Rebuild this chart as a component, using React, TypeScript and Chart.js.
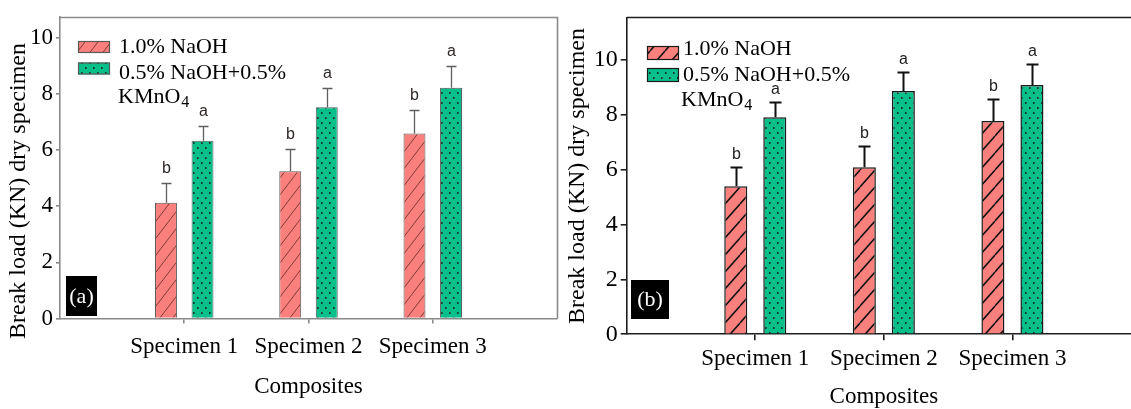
import React, { useEffect, useRef } from 'react';
import { Chart, registerables } from 'chart.js';

Chart.register(...registerables);

const SERIF = "'Liberation Serif', 'Times New Roman', serif";
const SANS = "'Liberation Sans Narrow', 'Liberation Sans', Arial, sans-serif";

const categories = ['Specimen 1', 'Specimen 2', 'Specimen 3'];
const xLabels = ['', ...categories, ''];
const seriesLabels = ['1.0% NaOH', '0.5% NaOH+0.5%'];
const legendThirdLine = 'KMnO';
const legendSubscript = '4';
const xTitle = 'Composites';
const yTitle = 'Break load (KN) dry specimen';
const yStep = 2;

// Panel (a)
const naohA = [4.12, 5.24, 6.59];
const naohErrA = [0.71, 0.79, 0.82];
const mixA = [6.33, 7.52, 8.21];
const mixErrA = [0.52, 0.69, 0.77];
const naohLettersA = ['b', 'b', 'b'];
const mixLettersA = ['a', 'a', 'a'];

// Panel (b)
const naohB = [5.4, 6.09, 7.77];
const naohErrB = [0.69, 0.79, 0.82];
const mixB = [7.91, 8.87, 9.09];
const mixErrB = [0.54, 0.68, 0.75];
const naohLettersB = ['b', 'b', 'b'];
const mixLettersB = ['a', 'a', 'a'];

const RED = '#F9807C';
const GREEN = '#06BF8B';
const H = 409;

type Style = {
  axisColor: string; axisWidth: number; frameRight: boolean;
  xTickLen: number; xLabelPad: number; xLabelSize: number; xTitleSize: number; xTitlePad: number;
  yTickLen: number; yLabelPad: number; yLabelSize: number;
  barBorder: string; barBorderWidth: number;
  hatchColor: string; hatchWidth: number; hatchW: number; hatchH: number;
  dotColor: string;
  errColor: string; errWidth: number; capW: number; letterGap: number; letterSize: number; letterColor: string;
  cp: number; bp: number;
  yTitleX: number; yTitleY: number;
  legend: { bx: number; bw: number; bh: number; b1y: number; b2y: number; tx: number; t3x: number; r1: number; r2: number; r3: number };
  tagBox: { x: number; y: number; w: number; h: number };
};

type Panel = {
  tag: string; left: number; rightPad: number;
  area: { l: number; r: number; t: number; b: number };
  yMax: number;
  naoh: number[]; naohErr: number[]; mix: number[]; mixErr: number[];
  naohLetters: string[]; mixLetters: string[];
  s: Style;
};

const panels: Panel[] = [
  {
    tag: '(a)', left: 0, rightPad: 3,
    area: { l: 60, r: 557, t: 14, b: 318.5 },
    yMax: 10.74,
    naoh: naohA, naohErr: naohErrA, mix: mixA, mixErr: mixErrA,
    naohLetters: naohLettersA, mixLetters: mixLettersA,
    s: {
      axisColor: '#8a8a8a', axisWidth: 1.6, frameRight: true,
      xTickLen: 5, xLabelPad: 10, xLabelSize: 23, xTitleSize: 23, xTitlePad: 10.5,
      yTickLen: 4, yLabelPad: 3, yLabelSize: 23,
      barBorder: '#5a5a5a', barBorderWidth: 1,
      hatchColor: 'rgba(90,35,35,0.75)', hatchWidth: 1, hatchW: 13, hatchH: 17,
      dotColor: '#163a2b',
      errColor: '#5e5e5e', errWidth: 1.3, capW: 10, letterGap: 15, letterSize: 16, letterColor: '#2e2826',
      cp: 0.588, bp: 0.6,
      yTitleX: 19, yTitleY: 191,
      legend: { bx: 78, bw: 32, bh: 12, b1y: 41, b2y: 62.5, tx: 119, t3x: 118, r1: 47, r2: 73, r3: 97 },
      tagBox: { x: 66, y: 276, w: 31, h: 40 },
    },
  },
  {
    tag: '(b)', left: 560, rightPad: 9,
    area: { l: 626.7, r: 1141, t: 16.7, b: 334.3 },
    yMax: 11.55,
    naoh: naohB, naohErr: naohErrB, mix: mixB, mixErr: mixErrB,
    naohLetters: naohLettersB, mixLetters: mixLettersB,
    s: {
      axisColor: '#1e1e1e', axisWidth: 1.6, frameRight: false,
      xTickLen: 6, xLabelPad: 5, xLabelSize: 23, xTitleSize: 23, xTitlePad: 0.5,
      yTickLen: 6, yLabelPad: 3, yLabelSize: 24,
      barBorder: '#1a1a1a', barBorderWidth: 1.5,
      hatchColor: '#111111', hatchWidth: 1.5, hatchW: 15, hatchH: 17,
      dotColor: '#12382a',
      errColor: '#111111', errWidth: 2, capW: 12, letterGap: 13, letterSize: 16, letterColor: '#222222',
      cp: 0.607, bp: 0.59,
      yTitleX: 18, yTitleY: 176,
      legend: { bx: 87, bw: 32, bh: 14, b1y: 46, b2y: 68, tx: 123, t3x: 121, r1: 49, r2: 75, r3: 100 },
      tagBox: { x: 71, y: 280, w: 38, h: 39 },
    },
  },
];

function hatch(bg: string, line: string, lw: number, w: number, h: number) {
  const c = document.createElement('canvas');
  c.width = w; c.height = h;
  const g = c.getContext('2d')!;
  g.fillStyle = bg; g.fillRect(0, 0, w, h);
  g.strokeStyle = line; g.lineWidth = lw;
  g.beginPath();
  for (const dx of [-w, 0, w]) { g.moveTo(dx, h); g.lineTo(dx + w, 0); }
  g.stroke();
  return g.createPattern(c, 'repeat')!;
}

function dots(bg: string, dot: string, w: number, h: number) {
  const c = document.createElement('canvas');
  c.width = w; c.height = h;
  const g = c.getContext('2d')!;
  g.fillStyle = bg; g.fillRect(0, 0, w, h);
  g.fillStyle = dot;
  g.fillRect(1, 2, 1.6, 2);
  g.fillRect(1 + w / 2, 2 + h / 2, 1.6, 2);
  return g.createPattern(c, 'repeat')!;
}

function PanelChart({ p }: { p: Panel }) {
  const ref = useRef<HTMLCanvasElement>(null);
  const s = p.s;
  // the x scale keeps at least its tick padding free at the right edge
  const padRight = Math.max(p.rightPad, s.xLabelPad);
  const width = Math.round(p.area.r - p.left + padRight);
  useEffect(() => {
    const canvas = ref.current!;
    const redPat = hatch(RED, s.hatchColor, s.hatchWidth, s.hatchW, s.hatchH);
    const greenPat = dots(GREEN, s.dotColor, 8, 10);
    const area = { l: p.area.l - p.left, r: p.area.r - p.left, t: p.area.t, b: p.area.b };

    const decor = {
      id: 'decor',
      afterDatasetsDraw(chart: any) {
        const ctx = chart.ctx as CanvasRenderingContext2D;
        const y = chart.scales.y;
        const sets: [number[], number[], string[]][] = [
          [p.naoh, p.naohErr, p.naohLetters],
          [p.mix, p.mixErr, p.mixLetters],
        ];
        sets.forEach(([vals, errs, lets], di) => {
          const meta = chart.getDatasetMeta(di);
          vals.forEach((v, i) => {
            const bar = meta.data[i + 1];
            if (!bar) return;
            const x = Math.round(bar.x) + 0.5;
            const yb = y.getPixelForValue(v);
            const yt = Math.round(y.getPixelForValue(v + errs[i])) + 0.5;
            ctx.save();
            ctx.strokeStyle = s.errColor;
            ctx.lineWidth = s.errWidth;
            ctx.beginPath();
            ctx.moveTo(x, yb);
            ctx.lineTo(x, yt);
            ctx.moveTo(x - s.capW / 2, yt);
            ctx.lineTo(x + s.capW / 2, yt);
            ctx.stroke();
            ctx.fillStyle = s.letterColor;
            ctx.font = `${s.letterSize}px ${SANS}`;
            ctx.textAlign = 'center';
            ctx.textBaseline = 'middle';
            ctx.fillText(lets[i], x, yt - s.letterGap);
            ctx.restore();
          });
        });
      },
      afterDraw(chart: any) {
        const ctx = chart.ctx as CanvasRenderingContext2D;
        const ca = chart.chartArea;
        ctx.save();
        ctx.strokeStyle = s.axisColor;
        ctx.lineWidth = s.axisWidth;
        ctx.beginPath();
        ctx.moveTo(ca.left, Math.round(ca.top) + 0.5);
        ctx.lineTo(s.frameRight ? ca.right : chart.width, Math.round(ca.top) + 0.5);
        if (s.frameRight) {
          ctx.moveTo(Math.round(ca.right) + 0.5, ca.top);
          ctx.lineTo(Math.round(ca.right) + 0.5, ca.bottom);
        }
        ctx.stroke();
        const tb = s.tagBox;
        ctx.fillStyle = '#000';
        ctx.fillRect(tb.x, tb.y, tb.w, tb.h);
        ctx.fillStyle = '#fff';
        ctx.font = `22px ${SERIF}`;
        ctx.textAlign = 'center';
        ctx.textBaseline = 'middle';
        ctx.fillText(p.tag, tb.x + tb.w / 2, tb.y + tb.h / 2 + 1);
        const lg = s.legend;
        const box = (y0: number, pat: CanvasPattern) => {
          ctx.fillStyle = pat;
          ctx.fillRect(lg.bx, y0, lg.bw, lg.bh);
          ctx.strokeStyle = s.barBorder;
          ctx.lineWidth = 1.2;
          ctx.strokeRect(lg.bx + 0.5, y0 + 0.5, lg.bw - 1, lg.bh - 1);
        };
        box(lg.b1y, redPat);
        box(lg.b2y, greenPat);
        ctx.fillStyle = '#000';
        ctx.textAlign = 'left';
        ctx.textBaseline = 'middle';
        ctx.font = `22px ${SERIF}`;
        ctx.fillText(seriesLabels[0], lg.tx, lg.r1);
        ctx.fillText(seriesLabels[1], lg.tx, lg.r2);
        ctx.fillText(legendThirdLine, lg.t3x, lg.r3);
        const w3 = ctx.measureText(legendThirdLine).width;
        ctx.font = `16px ${SERIF}`;
        ctx.fillText(legendSubscript, lg.t3x + w3 + 1, lg.r3 + 6);
        ctx.translate(s.yTitleX, s.yTitleY);
        ctx.rotate(-Math.PI / 2);
        ctx.font = `24px ${SERIF}`;
        ctx.textAlign = 'center';
        ctx.textBaseline = 'middle';
        ctx.fillStyle = '#000';
        ctx.fillText(yTitle, 0, 0);
        ctx.restore();
      },
    };

    const chart = new Chart(canvas, {
      type: 'bar',
      data: {
        labels: xLabels,
        datasets: [
          {
            label: seriesLabels[0],
            data: [null, ...p.naoh, null],
            backgroundColor: redPat,
            borderColor: s.barBorder,
            borderWidth: s.barBorderWidth,
            categoryPercentage: s.cp,
            barPercentage: s.bp,
          },
          {
            label: seriesLabels[1] + ' ' + legendThirdLine + legendSubscript,
            data: [null, ...p.mix, null],
            backgroundColor: greenPat,
            borderColor: s.barBorder,
            borderWidth: s.barBorderWidth,
            categoryPercentage: s.cp,
            barPercentage: s.bp,
          },
        ],
      } as any,
      options: {
        responsive: false,
        maintainAspectRatio: false,
        animation: false,
        layout: { padding: { left: 0, top: area.t, right: width - area.r, bottom: 0 } },
        plugins: {
          legend: { display: false },
          tooltip: { enabled: false },
          title: { display: false },
        },
        scales: {
          x: {
            type: 'category',
            offset: false,
            grid: {
              offset: false,
              drawOnChartArea: false,
              drawTicks: true,
              tickLength: s.xTickLen,
              lineWidth: s.axisWidth,
              tickColor: (c: any) => (c.index >= 1 && c.index <= 3 ? s.axisColor : 'rgba(0,0,0,0)'),
            },
            border: { color: s.axisColor, width: s.axisWidth },
            ticks: {
              autoSkip: false,
              maxRotation: 0,
              minRotation: 0,
              padding: s.xLabelPad,
              color: '#000',
              font: { family: SERIF, size: s.xLabelSize },
            },
            title: {
              display: true,
              text: xTitle,
              color: '#000',
              font: { family: SERIF, size: s.xTitleSize, lineHeight: 1 },
              padding: { top: 0, bottom: s.xTitlePad },
            },
            afterFit: (sc: any) => { sc.height = H - area.b; },
          },
          y: {
            min: 0,
            max: p.yMax,
            grid: {
              drawOnChartArea: false,
              drawTicks: true,
              tickLength: s.yTickLen,
              color: s.axisColor,
              lineWidth: s.axisWidth,
            },
            border: { color: s.axisColor, width: s.axisWidth },
            ticks: {
              stepSize: yStep,
              includeBounds: false,
              padding: s.yLabelPad,
              color: '#000',
              font: { family: SERIF, size: s.yLabelSize },
            },
            afterFit: (sc: any) => { sc.width = area.l; },
          },
        },
      } as any,
      plugins: [decor],
    });
    return () => chart.destroy();
  }, [p, width]);
  return (
    <canvas
      ref={ref}
      width={width}
      height={H}
      style={{ position: 'absolute', left: p.left, top: 0, width, height: H }}
    />
  );
}

export default function App() {
  return (
    <div
      style={{
        position: 'absolute',
        left: 0,
        top: 0,
        width: 1131,
        height: H,
        overflow: 'hidden',
        background: '#fff',
      }}
    >
      {panels.map((p) => (
        <PanelChart key={p.tag} p={p} />
      ))}
    </div>
  );
}
